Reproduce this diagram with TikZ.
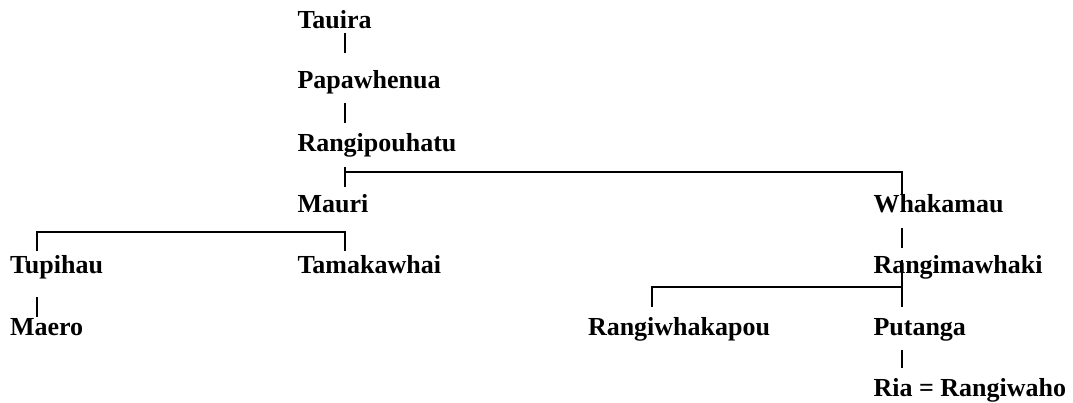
\documentclass[tikz,border=0pt]{standalone}
\usepackage{fontspec}
\setmainfont{Liberation Serif}
\begin{document}
\begin{tikzpicture}[x=1pt,y=-1pt,
  person/.style={anchor=base west,inner sep=0pt,outer sep=0pt,
    font=\fontsize{26}{30}\selectfont\bfseries},
  link/.style={line width=2pt}]
\useasboundingbox (0,0) rectangle (1073,402);

% people
\node[person] (tauira) at (297.5,28) {Tauira};
\node[person] (papa)   at (297.5,88) {Papawhenua};
\node[person] (rpou)   at (297.5,151) {Rangipouhatu};
\node[person] (mauri)  at (297.5,212) {Mauri};
\node[person] (whaka)  at (873.5,212) {Whakamau};
\node[person] (tupi)   at (10,273) {Tupihau};
\node[person] (tama)   at (297.5,273) {Tamakawhai};
\node[person] (rmaw)   at (873.5,273) {Rangimawhaki};
\node[person] (maero)  at (10,335) {Maero};
\node[person] (rwhak)  at (588,335) {Rangiwhakapou};
\node[person] (putanga) at (873.5,335) {Putanga};
\node[person] (ria)    at (873.5,396) {Ria = Rangiwaho};

% single lines of descent
\draw[link] ([shift={(47.5,5)}]tauira.base west) -- ([shift={(47.5,-35)}]papa.base west);
\draw[link] ([shift={(47.5,15)}]papa.base west) -- ([shift={(47.5,-28)}]rpou.base west);
\draw[link] ([shift={(27,24)}]tupi.base west) -- ([shift={(27,-18)}]maero.base west);
\draw[link] ([shift={(28.5,16)}]whaka.base west) -- ([shift={(28.5,-25)}]rmaw.base west);
\draw[link] ([shift={(28.5,15)}]putanga.base west) -- ([shift={(28.5,-28)}]ria.base west);

% sibling brackets
\draw[link] ([shift={(47.5,16)}]rpou.base west) -- ([shift={(47.5,-25)}]mauri.base west);
\draw[link] ([shift={(47.5,21)}]rpou.base west) -| ([shift={(28.5,-17)}]whaka.base west);
\draw[link] ([shift={(27,-22)}]tupi.base west) |- ([shift={(47.5,20)}]mauri.base west)
  -- ([shift={(47.5,-22)}]tama.base west);
\draw[link] ([shift={(28.5,-13)}]rmaw.base west) -- ([shift={(28.5,-28)}]putanga.base west);
\draw[link] ([shift={(64,-28)}]rwhak.base west) |- ([shift={(28.5,14)}]rmaw.base west);
\end{tikzpicture}
\end{document}
